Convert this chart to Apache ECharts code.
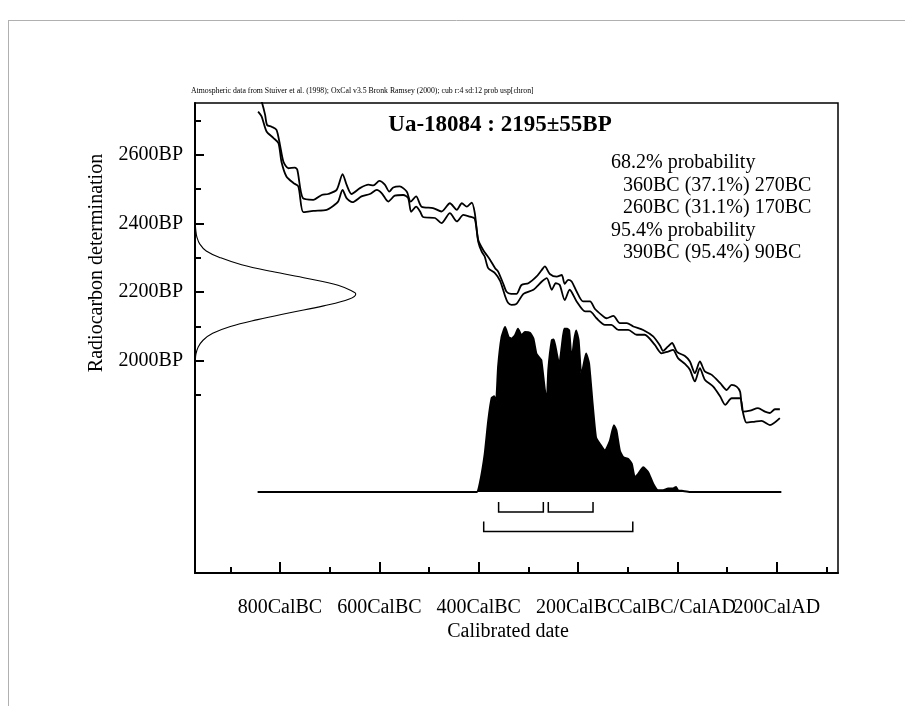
<!DOCTYPE html>
<html><head><meta charset="utf-8">
<script src="https://cdn.jsdelivr.net/npm/echarts@6.0.0/dist/echarts.min.js"></script>
<style>html,body{margin:0;padding:0;background:#fff}#c{width:905px;height:706px}</style>
</head><body><div id="c"></div>
<script>
// ---- data ----
const xMajorTicks = [-800, -600, -400, -200, 0, 200];
const xMinorTicks = [-900, -700, -500, -300, -100, 100, 300];
const yMajorTicks = [2000, 2200, 2400, 2600];
const yMinorTicks = [1900, 2100, 2300, 2500, 2700];

// calibration curve: [calendar year (neg = BC), BP]
const curveUpper = [[-842,2775],[-836,2751],[-830,2717],[-826,2687],[-817,2682],[-807,2673],[-800,2629],[-793,2580],[-783,2561],[-770,2563],[-765,2556],[-754,2474],[-733,2469],[-716,2483],[-703,2486],[-686,2498],[-674,2544],[-666,2513],[-656,2486],[-639,2503],[-622,2513],[-612,2511],[-600,2524],[-589,2513],[-580,2493],[-572,2505],[-559,2508],[-545,2493],[-537,2464],[-526,2479],[-515,2449],[-492,2445],[-475,2435],[-458,2459],[-444,2440],[-434,2459],[-424,2449],[-414,2461],[-408,2431],[-401,2352],[-391,2323],[-377,2294],[-367,2270],[-361,2260],[-351,2226],[-344,2201],[-335,2195],[-324,2195],[-314,2221],[-300,2226],[-284,2245],[-273,2265],[-267,2275],[-257,2253],[-243,2245],[-233,2250],[-227,2224],[-220,2236],[-213,2231],[-203,2202],[-190,2173],[-176,2173],[-166,2151],[-153,2134],[-143,2124],[-129,2131],[-116,2110],[-102,2110],[-89,2100],[-69,2090],[-49,2071],[-35,2044],[-29,2029],[-19,2042],[-11,2052],[-1,2026],[15,2014],[25,1998],[35,1964],[45,1998],[55,1969],[69,1959],[86,1935],[99,1915],[109,1930],[119,1925],[126,1910],[132,1852],[146,1855],[162,1862],[176,1852],[186,1848],[196,1859],[206,1859]];
const curveLower = [[-844,2726],[-837,2712],[-827,2668],[-813,2649],[-803,2634],[-797,2580],[-787,2537],[-773,2518],[-763,2508],[-753,2433],[-733,2437],[-706,2440],[-693,2451],[-683,2464],[-674,2498],[-666,2474],[-654,2462],[-636,2479],[-619,2486],[-605,2498],[-595,2488],[-582,2464],[-569,2481],[-552,2483],[-542,2474],[-536,2434],[-526,2449],[-518,2435],[-512,2419],[-488,2416],[-475,2401],[-458,2430],[-444,2406],[-431,2425],[-418,2420],[-408,2414],[-401,2347],[-394,2318],[-388,2304],[-381,2270],[-367,2255],[-357,2233],[-347,2189],[-341,2169],[-334,2163],[-324,2166],[-310,2195],[-290,2207],[-273,2231],[-263,2241],[-253,2207],[-245,2226],[-237,2221],[-227,2177],[-217,2207],[-203,2173],[-186,2144],[-176,2144],[-163,2124],[-146,2105],[-133,2105],[-119,2090],[-99,2090],[-82,2076],[-66,2076],[-46,2047],[-32,2022],[-19,2027],[-9,2032],[1,2008],[15,1991],[25,1974],[35,1940],[45,1979],[55,1945],[72,1925],[86,1896],[96,1872],[109,1891],[126,1891],[132,1848],[139,1820],[156,1823],[169,1825],[186,1813],[206,1833]];

// calibrated probability distribution: [year, relative probability]
const calibrated = [[-845,0],[-404,0],[-398,0.05],[-388,0.23],[-381,0.43],[-374,0.57],[-369,0.58],[-365,0.55],[-361,0.76],[-354,0.94],[-347,1.0],[-340,0.94],[-334,0.93],[-327,0.95],[-321,0.99],[-314,0.95],[-307,0.97],[-297,0.965],[-290,0.93],[-284,0.84],[-277,0.81],[-274,0.80],[-267,0.62],[-263,0.54],[-260,0.74],[-253,0.92],[-249,0.925],[-243,0.84],[-238,0.77],[-233,0.88],[-228,0.99],[-222,0.99],[-218,0.98],[-213,0.80],[-208,0.92],[-204,0.98],[-199,0.92],[-194,0.72],[-191,0.74],[-184,0.84],[-178,0.78],[-171,0.54],[-164,0.33],[-156,0.29],[-146,0.25],[-136,0.31],[-128,0.405],[-123,0.375],[-116,0.25],[-109,0.21],[-99,0.20],[-92,0.17],[-86,0.09],[-79,0.11],[-69,0.15],[-59,0.12],[-49,0.05],[-39,0.01],[-29,0.01],[-19,0.02],[-9,0.02],[-3,0.03],[1,0.01],[11,0.006],[25,0],[209,0]];

// radiocarbon measurement 2195±55BP: [relative density, BP]
const measurement = [[0,2420],[0.002,2400],[0.005,2380],[0.012,2360],[0.03,2340],[0.07,2320],[0.16,2300],[0.29,2280],[0.48,2260],[0.70,2240],[0.89,2220],[0.99,2200],[1.0,2195],[0.96,2180],[0.80,2160],[0.59,2140],[0.39,2120],[0.22,2100],[0.11,2080],[0.05,2060],[0.02,2040],[0.006,2020],[0.002,2000],[0,1980]];

// ranges: [from, to, row]  row 0 = 68.2%, row 1 = 95.4%
const ranges = [[-360,-270,0],[-260,-170,0],[-390,-90,1]];

const headerNote = 'Atmospheric data from Stuiver et al. (1998); OxCal v3.5 Bronk Ramsey (2000); cub r:4 sd:12 prob usp[chron]';
const sampleTitle = 'Ua-18084 : 2195\u00b155BP';
const resultLines = ['68.2% probability','  360BC (37.1%) 270BC','  260BC (31.1%) 170BC','95.4% probability','  390BC (95.4%) 90BC'];

// ---- chart ----
const FONT = '"Liberation Serif","Times New Roman",serif';
function calLabel(v){ v = Math.round(v); if (v < 0) return (-v) + 'CalBC'; if (v === 0) return 'CalBC/CalAD'; return v + 'CalAD'; }

const chart = echarts.init(document.getElementById('c'), null, {renderer:'canvas'});
const gridDef = {left:195, top:103, width:643, height:470, show:true, borderColor:'#000', borderWidth:1.5, backgroundColor:'transparent'};
const xMin = -971, xMax = 323;

// split the labelled x ticks over three axes so that touching labels are never dropped
const xLabelGroups = [
  xMajorTicks.filter((v,i)=>i%3===0),
  xMajorTicks.filter((v,i)=>i%3===1),
  xMajorTicks.filter((v,i)=>i%3===2)
];

function majorXAxis(vals){
  return {type:'value', min:xMin, max:xMax, position:'bottom',
    axisLine:{show:false, onZero:false},
    axisTick:{show:true, inside:true, length:11, customValues:vals, lineStyle:{color:'#000', width:2}},
    axisLabel:{show:true, customValues:vals, formatter:calLabel, margin:25, color:'#000', fontFamily:FONT, fontSize:20, hideOverlap:false, showMinLabel:true, showMaxLabel:true},
    splitLine:{show:false}};
}

const textEls = [];
textEls.push({type:'line', shape:{x1:8, y1:20.5, x2:905, y2:20.5}, style:{stroke:'#b0b0b0', lineWidth:1}});
textEls.push({type:'line', shape:{x1:8.5, y1:20, x2:8.5, y2:706}, style:{stroke:'#b0b0b0', lineWidth:1}});
textEls.push({type:'text', left:191, top:87, style:{text:headerNote, font:'7.75px '+FONT, fill:'#000'}});
textEls.push({type:'text', x:500, y:125, style:{text:sampleTitle, font:'bold 23px '+FONT, fill:'#000', align:'center', verticalAlign:'middle'}});
const lineY = [163, 185.5, 208, 230.5, 253];
resultLines.forEach((t,i)=>{
  const indent = t.startsWith('  ');
  textEls.push({type:'text', x: indent ? 623 : 611, y: lineY[i], style:{text:t.trim(), font:'20px '+FONT, fill:'#000', align:'left', verticalAlign:'middle'}});
});
textEls.push({type:'text', x:508, y:632, style:{text:'Calibrated date', font:'20px '+FONT, fill:'#000', align:'center', verticalAlign:'middle'}});
textEls.push({type:'text', x:97, y:263, rotation:Math.PI/2, style:{text:'Radiocarbon determination', font:'20px '+FONT, fill:'#000', align:'center', verticalAlign:'middle'}});

chart.setOption({
  animation:false,
  backgroundColor:'#fff',
  grid:[gridDef],
  xAxis:[
    {type:'value', min:xMin, max:xMax, position:'bottom',
      axisLine:{show:true, onZero:false, lineStyle:{color:'#000', width:2}},
      axisTick:{show:true, inside:true, length:6, customValues:xMinorTicks, lineStyle:{color:'#000', width:2}},
      axisLabel:{show:false}, splitLine:{show:false}},
    majorXAxis(xLabelGroups[0]),
    majorXAxis(xLabelGroups[1]),
    majorXAxis(xLabelGroups[2]),
    {type:'value', min:0, max:4, show:false}
  ],
  yAxis:[
    {type:'value', min:1382, max:2751, position:'left',
      axisLine:{show:true, onZero:false, lineStyle:{color:'#000', width:2}},
      axisTick:{show:true, inside:true, length:9, customValues:yMajorTicks, lineStyle:{color:'#000', width:2}},
      axisLabel:{show:true, customValues:yMajorTicks, formatter:v=>v+'BP', margin:12, color:'#000', fontFamily:FONT, fontSize:20, hideOverlap:false},
      splitLine:{show:false}},
    {type:'value', min:1382, max:2751, position:'left', offset:0,
      axisLine:{show:false, onZero:false},
      axisTick:{show:true, inside:true, length:6, customValues:yMinorTicks, lineStyle:{color:'#000', width:2}},
      axisLabel:{show:false}, splitLine:{show:false}},
    {type:'value', min:-0.492, max:2.36, show:false}
  ],
  series:[
    {type:'line', name:'curve upper', xAxisIndex:0, yAxisIndex:0, data:curveUpper, showSymbol:false, smooth:0.25, clip:true,
      lineStyle:{color:'#000', width:1.8}},
    {type:'line', name:'curve lower', xAxisIndex:0, yAxisIndex:0, data:curveLower, showSymbol:false, smooth:0.25, clip:true,
      lineStyle:{color:'#000', width:1.8}},
    {type:'line', name:'calibrated', xAxisIndex:0, yAxisIndex:2, data:calibrated, showSymbol:false, smooth:0.15,
      lineStyle:{color:'#000', width:2}, areaStyle:{color:'#000', opacity:1, origin:0}},
    {type:'line', name:'measurement', xAxisIndex:4, yAxisIndex:0, data:measurement, showSymbol:false, smooth:0.4,
      lineStyle:{color:'#000', width:1.1}},
    {type:'custom', name:'ranges', xAxisIndex:0, yAxisIndex:2, data:ranges,
      renderItem:function(params, api){
        const a = api.coord([api.value(0), 0]);
        const b = api.coord([api.value(1), 0]);
        const yy = a[1] + (api.value(2) === 0 ? 20 : 39.5);
        return {type:'polyline', shape:{points:[[a[0], yy-10],[a[0], yy],[b[0], yy],[b[0], yy-10]]},
          style:{stroke:'#000', lineWidth:1.5, fill:null}};
      }}
  ],
  graphic:textEls
});
</script></body></html>
